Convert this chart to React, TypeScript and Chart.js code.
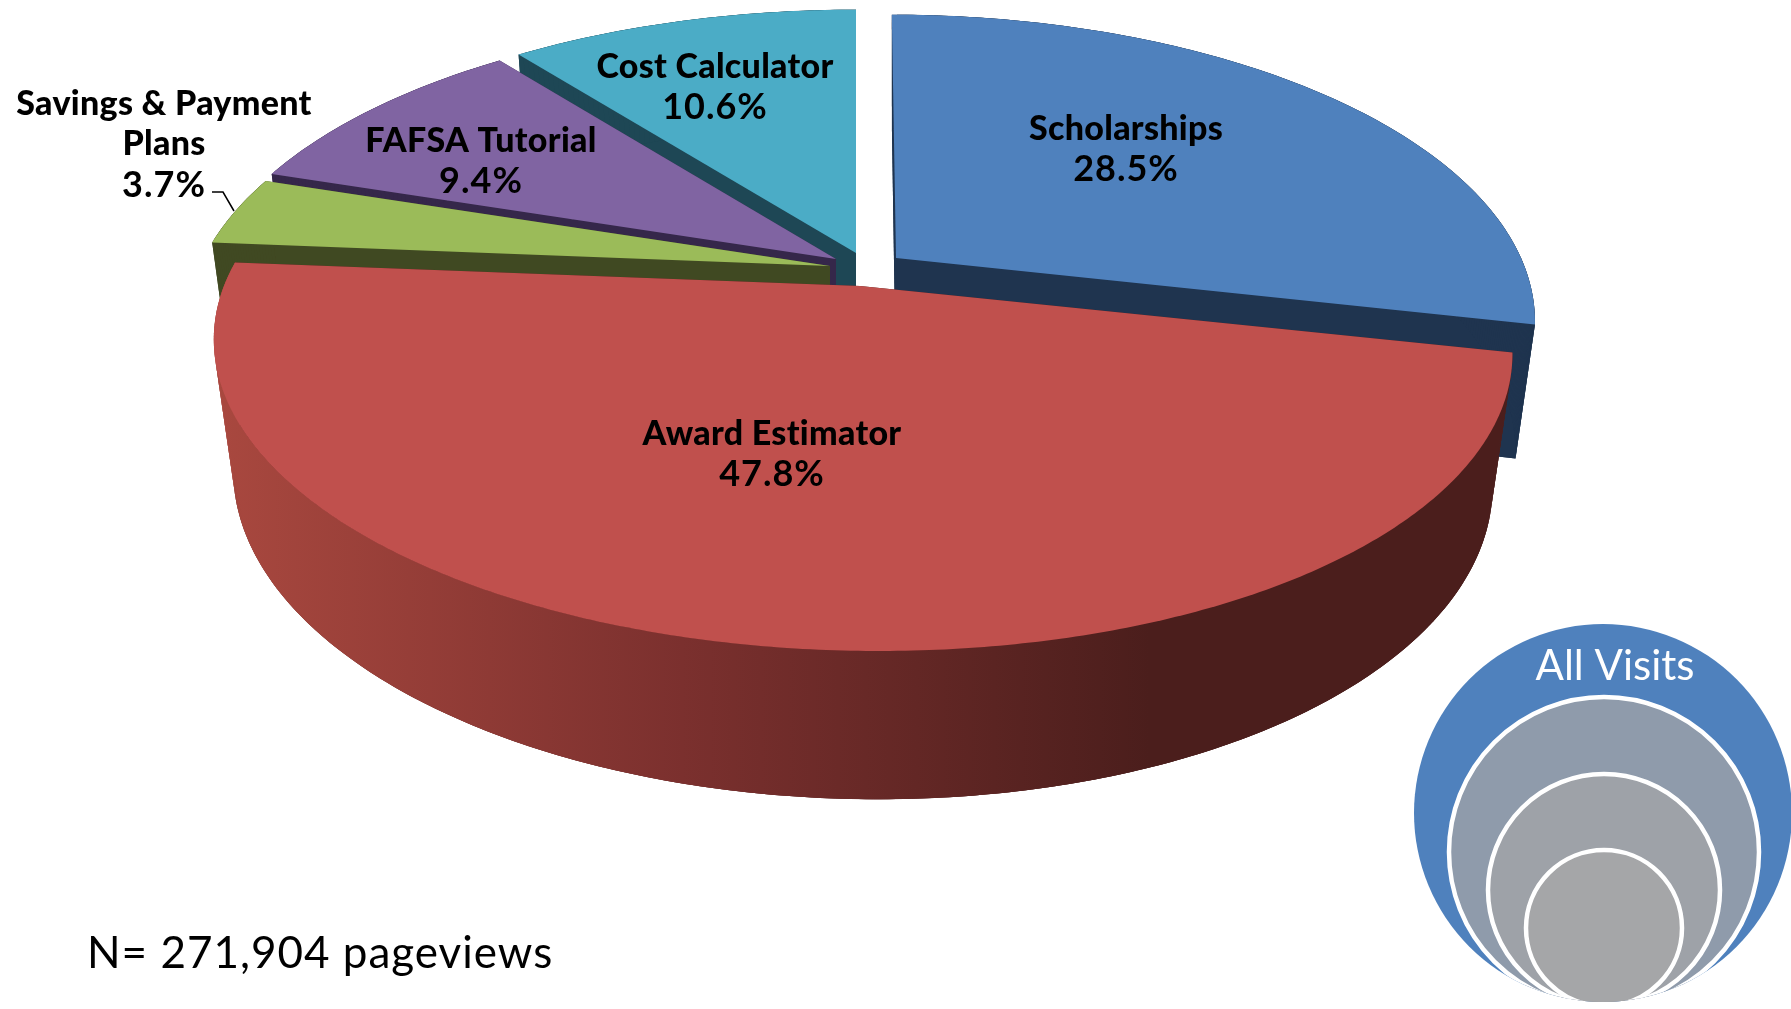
import React, { useEffect, useRef } from "react";
import { Chart, registerables } from "chart.js";

Chart.register(...registerables);

const categories = ["Scholarships", "Award Estimator", "Savings & Payment Plans", "FAFSA Tutorial", "Cost Calculator"];
const shares = [28.5, 47.8, 3.7, 9.4, 10.6];
const footnote = "N= 271,904 pageviews";
const circleCaption = "All Visits";

const topColors = ["#4F81BD", "#C0504D", "#9BBB59", "#8064A2", "#4BACC6"];
const wallColors = ["#1F344F", "#4B1E1C", "#404922", "#35274A", "#1E4755"];
const paintOrder = [4, 0, 3, 2, 1];

const RY = 292;
const PERSPECTIVE = 0.2;
const DEPTH = 134;
const DEPTH_SHRINK = 0.03;
const sliceGeometry = [
  { cx: 896, cy: 258, rx: 625, skew: 5 },
  { cx: 860, cy: 286, rx: 636, skew: 15 },
  { cx: 830, cy: 266, rx: 630, skew: 0 },
  { cx: 836, cy: 259, rx: 630, skew: 0 },
  { cx: 856, cy: 253, rx: 632, skew: 0 },
];
const labelLayout = [
  { x: 1126, y: 129, lines: ["Scholarships"] },
  { x: 772, y: 434, lines: ["Award Estimator"] },
  { x: 164, y: 104, lines: ["Savings & Payment", "Plans"] },
  { x: 481, y: 141, lines: ["FAFSA Tutorial"] },
  { x: 715, y: 67, lines: ["Cost Calculator"] },
];

function project(g: any, angle: number, radius: number, z: number) {
  const X = Math.cos(angle) * radius;
  const Y = Math.sin(angle) * radius;
  const w = 1 / (1 - PERSPECTIVE * Y + DEPTH_SHRINK * z);
  return { x: g.cx + (g.rx * X + g.skew * Y) * w, y: g.cy + (RY * Y + DEPTH * z) * w };
}

function rim(g: any, a0: number, a1: number, z: number) {
  const n = Math.max(12, Math.ceil(Math.abs(a1 - a0) / 0.01));
  const pts = [];
  for (let i = 0; i <= n; i++) pts.push(project(g, a0 + ((a1 - a0) * i) / n, 1, z));
  return pts;
}

function fillPoly(ctx: CanvasRenderingContext2D, pts: { x: number; y: number }[], fill: any) {
  ctx.beginPath();
  pts.forEach((p, i) => (i ? ctx.lineTo(p.x, p.y) : ctx.moveTo(p.x, p.y)));
  ctx.closePath();
  ctx.fillStyle = fill;
  ctx.fill();
}

function drawSlice(ctx: CanvasRenderingContext2D, index: number, a0: number, a1: number) {
  const g = sliceGeometry[index];
  const top = rim(g, a0, a1, 0);
  const bottom = rim(g, a0, a1, 1);
  const apexTop = project(g, 0, 0, 0);
  const apexBottom = project(g, 0, 0, 1);
  const flat = wallColors[index];
  let wall: any = flat;
  if (index === 1) {
    const grad = ctx.createLinearGradient(215, 0, 1150, 0);
    grad.addColorStop(0, "#A9483F");
    grad.addColorStop(0.5, "#7B302E");
    grad.addColorStop(1, "#4B1E1C");
    wall = grad;
  }
  fillPoly(ctx, [apexBottom, ...bottom], flat);
  fillPoly(ctx, [apexTop, top[0], bottom[0], apexBottom], flat);
  fillPoly(ctx, [apexTop, top[top.length - 1], bottom[bottom.length - 1], apexBottom], flat);
  for (let i = 0; i + 1 < top.length; i++) {
    const j = Math.min(i + 2, top.length - 1);
    fillPoly(ctx, [top[i], top[j], bottom[j], bottom[i]], wall);
  }
  fillPoly(ctx, [apexTop, ...top], topColors[index]);
}

const pie3dPlugin = {
  id: "pie3d",
  beforeDatasetDraw(chart: any) {
    const ctx: CanvasRenderingContext2D = chart.ctx;
    const arcs = chart.getDatasetMeta(0).data;
    ctx.save();
    paintOrder.forEach((i) => drawSlice(ctx, i, arcs[i].startAngle, arcs[i].endAngle));

    ctx.strokeStyle = "#000";
    ctx.lineWidth = 1.5;
    ctx.beginPath();
    ctx.moveTo(212, 192);
    ctx.lineTo(223, 192);
    ctx.lineTo(234, 211);
    ctx.stroke();

    ctx.fillStyle = "#000";
    ctx.textAlign = "center";
    ctx.textBaseline = "middle";
    labelLayout.forEach((lay, i) => {
      (ctx as any).letterSpacing = "0.3px";
      ctx.font = "900 34px Lato";
      lay.lines.forEach((t, k) => ctx.fillText(t, lay.x, lay.y + k * 40.5));
      (ctx as any).letterSpacing = "1px";
      ctx.font = "700 36px Lato";
      ctx.fillText(`${shares[i].toFixed(1)}%`, lay.x, lay.y + lay.lines.length * 40.5);
    });
    (ctx as any).letterSpacing = "0px";

    const outer = { x: 1603, y: 813, r: 189 };
    ctx.beginPath();
    ctx.arc(outer.x, outer.y, outer.r, 0, Math.PI * 2);
    ctx.fillStyle = "#4F81BD";
    ctx.fill();
    ctx.save();
    ctx.beginPath();
    ctx.arc(outer.x, outer.y, outer.r, 0, Math.PI * 2);
    ctx.clip();
    const circles = [
      { x: 1604, y: 852, r: 155, c: "#8F9BAB" },
      { x: 1604, y: 890, r: 116, c: "#9EA2A8" },
      { x: 1604, y: 928, r: 78, c: "#A5A6A8" },
    ];
    circles.forEach((c) => {
      ctx.beginPath();
      ctx.arc(c.x, c.y, c.r, 0, Math.PI * 2);
      ctx.fillStyle = c.c;
      ctx.fill();
      ctx.strokeStyle = "#fff";
      ctx.lineWidth = 4.5;
      ctx.stroke();
    });
    ctx.restore();
    ctx.fillStyle = "#fff";
    ctx.font = "400 42px Lato";
    ctx.textBaseline = "alphabetic";
    ctx.fillText(circleCaption, 1615, 680);
    ctx.fillStyle = "#000";
    ctx.textAlign = "left";
    (ctx as any).letterSpacing = "1px";
    ctx.font = "400 44px Lato";
    ctx.fillText(footnote, 87, 968);
    (ctx as any).letterSpacing = "0px";
    ctx.restore();
    return false;
  },
};

export default function App() {
  const ref = useRef<HTMLCanvasElement>(null);
  useEffect(() => {
    const chart = new Chart(ref.current as HTMLCanvasElement, {
      type: "pie",
      data: { labels: categories, datasets: [{ data: shares, backgroundColor: topColors, borderWidth: 0 }] },
      options: {
        responsive: false,
        animation: false,
        layout: { padding: 0 },
        plugins: { legend: { display: false }, tooltip: { enabled: false } },
      },
      plugins: [pie3dPlugin],
    } as any);
    return () => chart.destroy();
  }, []);
  return (
    <div style={{ position: "absolute", left: 0, top: 0, width: 1791, height: 1009, background: "#fff" }}>
      <canvas ref={ref} width={1791} height={1009} style={{ display: "block" }} />
    </div>
  );
}
